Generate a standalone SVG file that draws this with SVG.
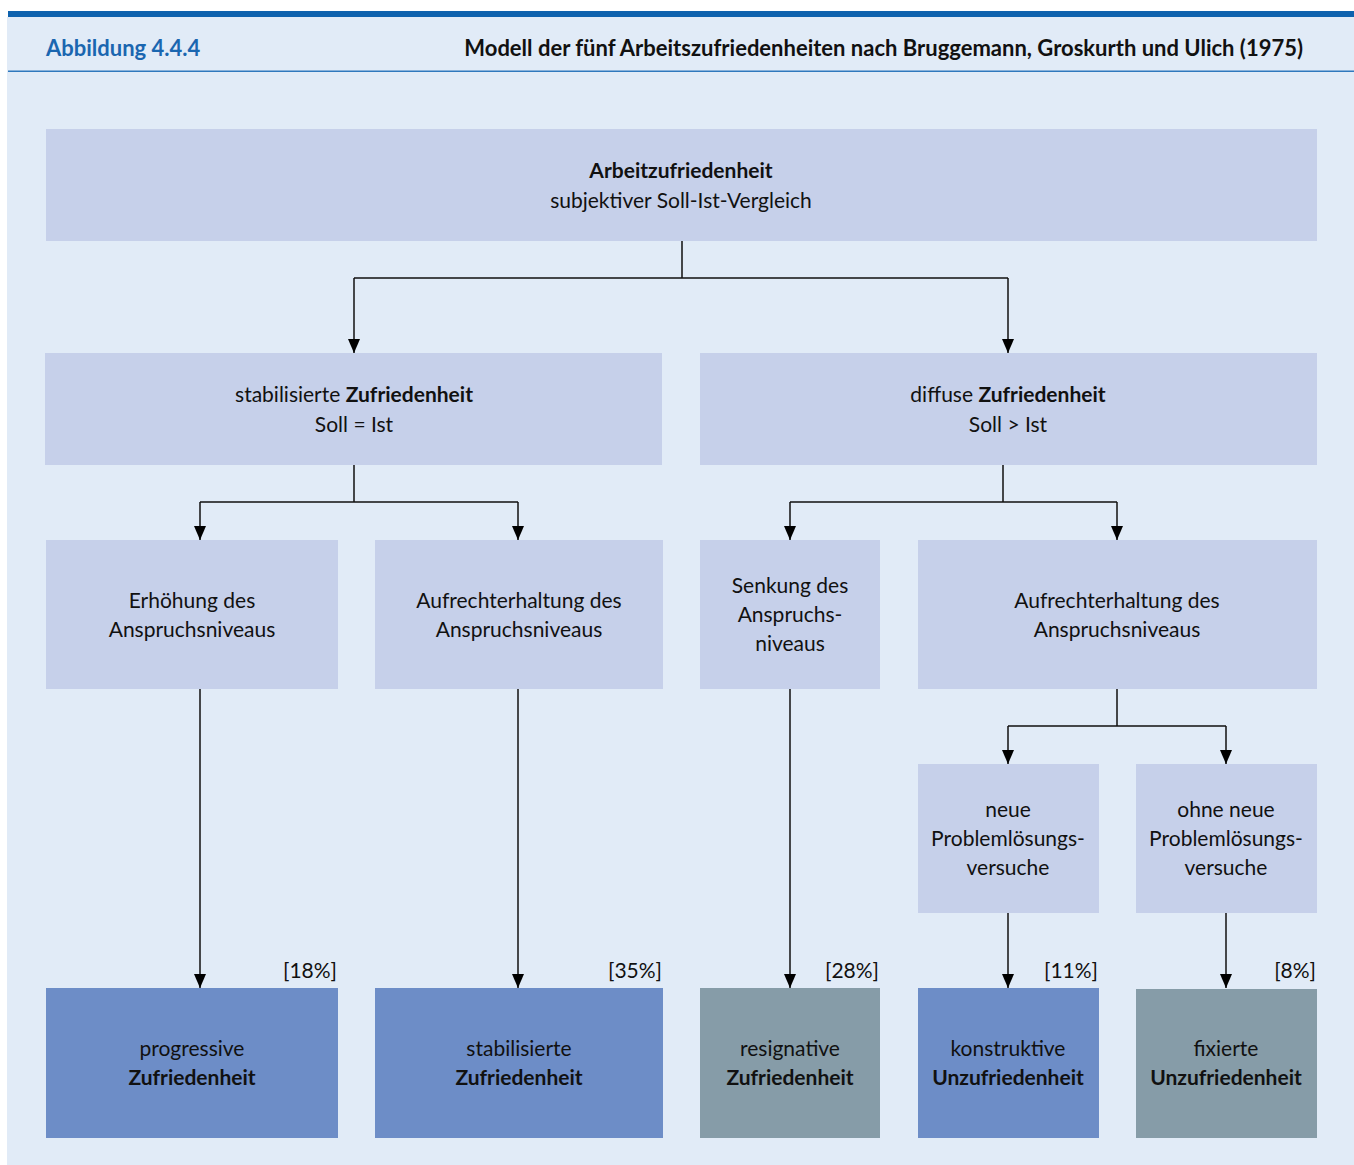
<svg xmlns="http://www.w3.org/2000/svg" width="1354" height="1165" viewBox="0 0 1354 1165">
<defs>
<marker id="arr" markerWidth="14" markerHeight="12" refX="14" refY="6" orient="auto" markerUnits="userSpaceOnUse" viewBox="0 0 14 12">
<path d="M0,0 L14,6 L0,12 Z" fill="#000"/>
</marker>
<style>
text{font-family:Lato,"Noto Sans","Liberation Sans",sans-serif;font-size:21px;fill:#111;text-anchor:middle}
.b{font-weight:bold}
.n{fill:#c6d0ea}
.d{fill:#6d8dc7}
.g{fill:#869ca8}
.c{stroke:#111;stroke-width:1.5;fill:none}
.a{marker-end:url(#arr)}
.p{text-anchor:end}
</style>
</defs>
<rect x="0" y="0" width="1354" height="1165" fill="#fff"/>
<rect x="7" y="17" width="1347" height="1148" fill="#e1ebf7"/>
<rect x="8" y="11" width="1346" height="6" fill="#0e62ae"/>
<rect x="8" y="70.5" width="1346" height="1.5" fill="#2f78bd"/>
<text x="46" y="56" class="b" style="text-anchor:start;fill:#1a66b0;font-size:22px">Abbildung 4.4.4</text>
<text x="1303" y="56" class="b" style="text-anchor:end;font-size:22px">Modell der fünf Arbeitszufriedenheiten nach Bruggemann, Groskurth und Ulich (1975)</text>

<g id="connectors">
<path class="c" d="M682,241 V278 M354,278 H1008"/>
<path class="c a" d="M354,278 V353"/>
<path class="c a" d="M1008,278 V353"/>
<path class="c" d="M354,465 V502 M200,502 H518"/>
<path class="c a" d="M200,502 V540"/>
<path class="c a" d="M518,502 V540"/>
<path class="c" d="M1003,465 V502 M790,502 H1117"/>
<path class="c a" d="M790,502 V540"/>
<path class="c a" d="M1117,502 V540"/>
<path class="c" d="M1117,689 V726 M1008,726 H1226"/>
<path class="c a" d="M1008,726 V764"/>
<path class="c a" d="M1226,726 V764"/>
<path class="c a" d="M200,689 V988"/>
<path class="c a" d="M518,689 V988"/>
<path class="c a" d="M790,689 V988"/>
<path class="c a" d="M1008,913 V988"/>
<path class="c a" d="M1226,913 V988"/>
</g>

<g id="n-top">
<rect class="n" x="46" y="129" width="1271" height="112"/>
<text x="681" y="178" class="b">Arbeitzufriedenheit</text>
<text x="681" y="208">subjektiver Soll-Ist-Vergleich</text>
</g>
<g id="n-stab">
<rect class="n" x="45" y="353" width="617" height="112"/>
<text x="354" y="402">stabilisierte <tspan class="b">Zufriedenheit</tspan></text>
<text x="354" y="432">Soll = Ist</text>
</g>
<g id="n-diff">
<rect class="n" x="700" y="353" width="617" height="112"/>
<text x="1008" y="402">diffuse <tspan class="b">Zufriedenheit</tspan></text>
<text x="1008" y="432">Soll &gt; Ist</text>
</g>
<g id="n-erh">
<rect class="n" x="46" y="540" width="292" height="149"/>
<text x="192" y="608">Erhöhung des</text>
<text x="192" y="637">Anspruchsniveaus</text>
</g>
<g id="n-auf1">
<rect class="n" x="375" y="540" width="288" height="149"/>
<text x="519" y="608">Aufrechterhaltung des</text>
<text x="519" y="637">Anspruchsniveaus</text>
</g>
<g id="n-senk">
<rect class="n" x="700" y="540" width="180" height="149"/>
<text x="790" y="593">Senkung des</text>
<text x="790" y="622">Anspruchs-</text>
<text x="790" y="651">niveaus</text>
</g>
<g id="n-auf2">
<rect class="n" x="918" y="540" width="399" height="149"/>
<text x="1117" y="608">Aufrechterhaltung des</text>
<text x="1117" y="637">Anspruchsniveaus</text>
</g>
<g id="n-neue">
<rect class="n" x="918" y="764" width="181" height="149"/>
<text x="1008" y="817">neue</text>
<text x="1008" y="846">Problemlösungs-</text>
<text x="1008" y="875">versuche</text>
</g>
<g id="n-ohne">
<rect class="n" x="1136" y="764" width="181" height="149"/>
<text x="1226" y="817">ohne neue</text>
<text x="1226" y="846">Problemlösungs-</text>
<text x="1226" y="875">versuche</text>
</g>
<g id="n-prog">
<rect class="d" x="46" y="988" width="292" height="150"/>
<text x="192" y="1056">progressive</text>
<text x="192" y="1085" class="b">Zufriedenheit</text>
<text x="337" y="978" class="p">[18%]</text>
</g>
<g id="n-stab2">
<rect class="d" x="375" y="988" width="288" height="150"/>
<text x="519" y="1056">stabilisierte</text>
<text x="519" y="1085" class="b">Zufriedenheit</text>
<text x="662" y="978" class="p">[35%]</text>
</g>
<g id="n-resig">
<rect class="g" x="700" y="988" width="180" height="150"/>
<text x="790" y="1056">resignative</text>
<text x="790" y="1085" class="b">Zufriedenheit</text>
<text x="879" y="978" class="p">[28%]</text>
</g>
<g id="n-konst">
<rect class="d" x="918" y="988" width="181" height="150"/>
<text x="1008" y="1056">konstruktive</text>
<text x="1008" y="1085" class="b">Unzufriedenheit</text>
<text x="1098" y="978" class="p">[11%]</text>
</g>
<g id="n-fix">
<rect class="g" x="1136" y="989" width="181" height="149"/>
<text x="1226" y="1056">fixierte</text>
<text x="1226" y="1085" class="b">Unzufriedenheit</text>
<text x="1316" y="978" class="p">[8%]</text>
</g>
</svg>
